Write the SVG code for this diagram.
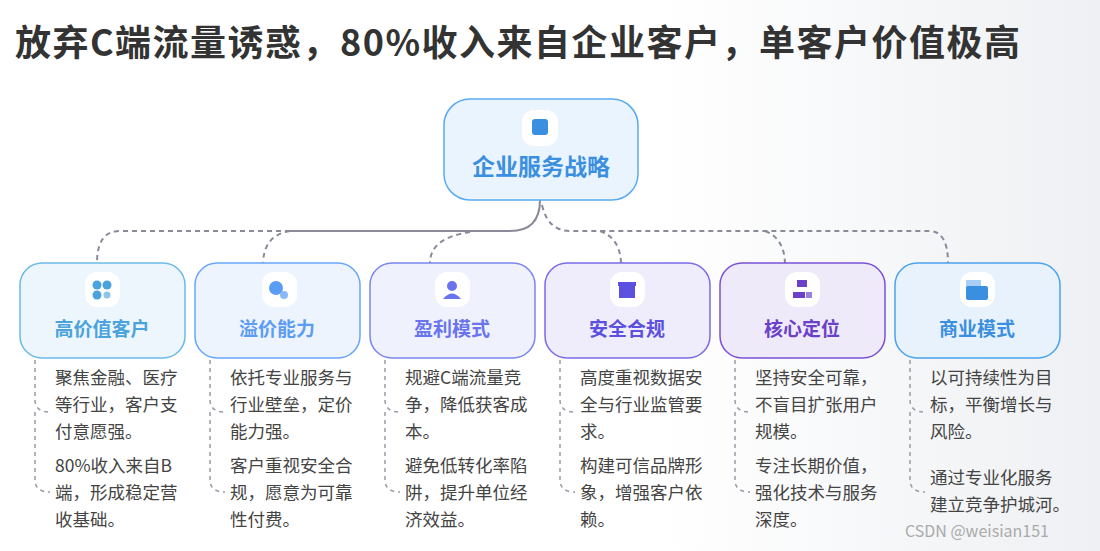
<svg xmlns="http://www.w3.org/2000/svg" width="1100" height="551" viewBox="0 0 1100 551">
<defs>
<linearGradient id="bg" x1="0" y1="0" x2="1" y2="0"><stop offset="0.6" stop-color="#ffffff"/><stop offset="1" stop-color="#eef0f3"/></linearGradient>
<style>
.t{font-family:"Noto Sans CJK SC","Liberation Sans",sans-serif}
.h{font-size:19px;font-weight:bold;text-anchor:middle}
.b{font-size:17.5px;fill:#444}
.c{fill:none;stroke:#8a8a9a;stroke-width:2;stroke-dasharray:5 4}
.br{fill:none;stroke:#9a9aaa;stroke-width:1.5;stroke-dasharray:4 4}
.ic{fill:#fff}
</style>
</defs>
<rect width="1100" height="551" fill="url(#bg)"/>
<text x="15" y="56" class="t" font-size="36" font-weight="bold" fill="#333" textLength="1005" lengthAdjust="spacing">放弃C端流量诱惑，80%收入来自企业客户，单客户价值极高</text>
<g id="connectors">
<path d="M540 200 Q540 231 510 231 L290 231" fill="none" stroke="#8a8a9a" stroke-width="2"/>
<path class="c" d="M290 231 L120 231 Q97 231 97 263"/>
<path class="c" d="M290 231 Q264 235 263 263"/>
<path class="c" d="M470 232 Q430 238 430 263"/>
<path class="c" d="M542 205 Q548 231 570 231 L930 231 Q948 232 948 263"/>
<path class="c" d="M600 231 Q620 238 621 263"/>
<path class="c" d="M765 231 Q784 238 785 263"/>
<g class="br">
<path d="M35 360 V400 Q35 412 50 412"/><path d="M35 412 V480 Q35 492 50 492"/>
<path d="M210 360 V400 Q210 412 225 412"/><path d="M210 412 V480 Q210 492 225 492"/>
<path d="M385 360 V400 Q385 412 400 412"/><path d="M385 412 V480 Q385 492 400 492"/>
<path d="M560 360 V400 Q560 412 575 412"/><path d="M560 412 V480 Q560 492 575 492"/>
<path d="M735 360 V400 Q735 412 750 412"/><path d="M735 412 V480 Q735 492 750 492"/>
<path d="M910 360 V400 Q910 412 925 412"/><path d="M910 412 V480 Q910 492 925 492"/>
</g>
</g>
<g id="root">
<rect x="444" y="99" width="194" height="101" rx="26" fill="#eaf4fe" stroke="#5aaaf0" stroke-width="1.5"/>
<rect x="522" y="110" width="36" height="36" rx="12" class="ic"/>
<rect x="532" y="119" width="16" height="16" rx="3" fill="#3b8fe0"/>
<text x="541" y="175" class="t h" style="font-size:23px" fill="#3b8fe0">企业服务战略</text>
</g>
<g id="n1">
<rect x="20" y="263" width="165" height="95" rx="22" fill="#eef6fd" stroke="#6bbbe8" stroke-width="1.5"/>
<rect x="85" y="272" width="35" height="35" rx="12" class="ic"/>
<circle cx="97" cy="285" r="4.5" fill="#4aa3dc"/><circle cx="107" cy="285" r="4.5" fill="#4aa3dc"/><circle cx="97" cy="295" r="4.5" fill="#4aa3dc"/><circle cx="107" cy="295" r="3.5" fill="#8cc4ea"/>
<text x="102" y="336" class="t h" fill="#4aa3dc">高价值客户</text>
</g>
<g id="n2">
<rect x="195" y="263" width="165" height="95" rx="22" fill="#eef4fe" stroke="#6aa6f8" stroke-width="1.5"/>
<rect x="262" y="272" width="35" height="35" rx="12" class="ic"/>
<circle cx="276" cy="288" r="7" fill="#5b9cf5"/><circle cx="284" cy="295" r="4" fill="#8ab8f8"/>
<text x="277" y="336" class="t h" fill="#5b9cf5">溢价能力</text>
</g>
<g id="n3">
<rect x="370" y="263" width="165" height="95" rx="22" fill="#eff1fd" stroke="#7b86f0" stroke-width="1.5"/>
<rect x="435" y="272" width="35" height="35" rx="12" class="ic"/>
<circle cx="452" cy="286" r="5" fill="#6a74ee"/><path d="M443 299 Q452 288 461 299 Z" fill="#6a74ee"/>
<text x="452" y="336" class="t h" fill="#6a74ee">盈利模式</text>
</g>
<g id="n4">
<rect x="545" y="263" width="165" height="95" rx="22" fill="#efedfb" stroke="#7a6be8" stroke-width="1.5"/>
<rect x="610" y="272" width="35" height="35" rx="12" class="ic"/>
<rect x="619" y="285" width="16" height="13" fill="#5b50e0"/><rect x="618" y="282" width="18" height="4" fill="#5b50e0"/>
<text x="627" y="336" class="t h" fill="#5b50e0">安全合规</text>
</g>
<g id="n5">
<rect x="720" y="263" width="165" height="95" rx="22" fill="#efeafa" stroke="#7a52d8" stroke-width="1.5"/>
<rect x="785" y="272" width="35" height="35" rx="12" class="ic"/>
<rect x="797" y="280" width="10" height="7" fill="#6a40c8"/><rect x="793" y="292" width="6" height="6" fill="#6a40c8"/><rect x="799" y="292" width="6" height="6" fill="#6a40c8"/><rect x="806" y="292" width="6" height="6" fill="#9a80e0"/>
<text x="802" y="336" class="t h" fill="#6a40c8">核心定位</text>
</g>
<g id="n6">
<rect x="895" y="263" width="165" height="95" rx="22" fill="#e8f2fc" stroke="#4aa3ec" stroke-width="1.5"/>
<rect x="960" y="272" width="35" height="35" rx="12" class="ic"/>
<rect x="966" y="280" width="15" height="8" fill="#a8cff4"/><rect x="966" y="286" width="22" height="14" rx="2" fill="#3b8fe0"/>
<text x="977" y="336" class="t h" fill="#3b8fe0">商业模式</text>
</g>
<g id="texts" class="t b">
<text x="55" y="384">聚焦金融、医疗</text><text x="55" y="411">等行业，客户支</text><text x="55" y="438">付意愿强。</text>
<text x="55" y="472">80%收入来自B</text><text x="55" y="499">端，形成稳定营</text><text x="55" y="526">收基础。</text>
<text x="230" y="384">依托专业服务与</text><text x="230" y="411">行业壁垒，定价</text><text x="230" y="438">能力强。</text>
<text x="230" y="472">客户重视安全合</text><text x="230" y="499">规，愿意为可靠</text><text x="230" y="526">性付费。</text>
<text x="405" y="384">规避C端流量竞</text><text x="405" y="411">争，降低获客成</text><text x="405" y="438">本。</text>
<text x="405" y="472">避免低转化率陷</text><text x="405" y="499">阱，提升单位经</text><text x="405" y="526">济效益。</text>
<text x="580" y="384">高度重视数据安</text><text x="580" y="411">全与行业监管要</text><text x="580" y="438">求。</text>
<text x="580" y="472">构建可信品牌形</text><text x="580" y="499">象，增强客户依</text><text x="580" y="526">赖。</text>
<text x="755" y="384">坚持安全可靠，</text><text x="755" y="411">不盲目扩张用户</text><text x="755" y="438">规模。</text>
<text x="755" y="472">专注长期价值，</text><text x="755" y="499">强化技术与服务</text><text x="755" y="526">深度。</text>
<text x="930" y="384">以可持续性为目</text><text x="930" y="411">标，平衡增长与</text><text x="930" y="438">风险。</text>
<text x="930" y="484">通过专业化服务</text><text x="930" y="511">建立竞争护城河。</text>
</g>
<text x="905" y="537" class="t" font-size="16" fill="#aaa">CSDN @weisian151</text>
</svg>
